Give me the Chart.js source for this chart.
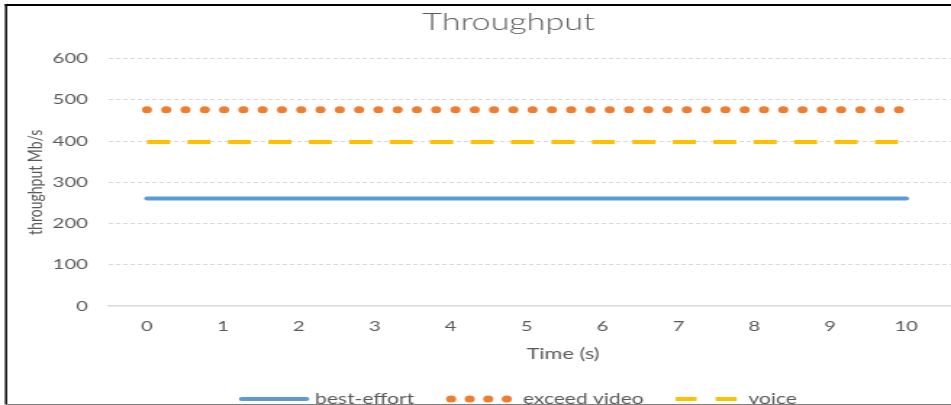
<!DOCTYPE html>
<html>
<head>
<meta charset="utf-8">
<script src="https://cdn.jsdelivr.net/npm/chart.js@4.4.1/dist/chart.umd.min.js"></script>
<style>
  html, body { margin: 0; padding: 0; background: #fff; overflow: hidden; }
  #wrap { width: 951px; height: 405px; overflow: hidden; }
  #c { display: block; transform-origin: 0 0; }
</style>
</head>
<body>
<div id="wrap"><canvas id="c" width="711" height="405" style="width:711px;height:405px"></canvas></div>
<script>
// Time axis (seconds) and measured throughput per traffic class (Mb/s)
const timeSteps   = [0, 1, 2, 3, 4, 5, 6, 7, 8, 9, 10];
const bestEffort  = [261, 261, 261, 261, 261, 261, 261, 261, 261, 261, 261];
const exceedVideo = [476, 476, 476, 476, 476, 476, 476, 476, 476, 476, 476];
const voice       = [398, 398, 398, 398, 398, 398, 398, 398, 398, 398, 398];
const yTicks      = [0, 100, 200, 300, 400, 500, 600];
const seriesNames = ['best-effort', 'exceed video', 'voice'];

// The chart is laid out on a narrower canvas and widened horizontally;
// the frame is wider than the visible window, which crops its right side.
const CANVAS_W = 711;
const STRETCH = 951 / 656;
document.getElementById('c').style.transform = 'scaleX(' + STRETCH + ')';

const TEXT = '#595959';
const FONT = 'Lato';
const COLORS = { blue: '#5b9bd5', orange: '#ed7d31', gold: '#ffc000' };

const toPoints = vals => vals.map((v, i) => ({ x: timeSteps[i], y: v }));

// Legend samples mirror each dataset's line style
const legendStyles = ['solid', 'dots', 'dash'];

const framePlugin = {
  id: 'frame',
  afterDraw(chart) {
    const ctx = chart.ctx;
    ctx.save();
    ctx.font = '14.5px ' + FONT;
    ctx.textBaseline = 'middle';
    const ly = 399;
    const sampleW = { solid: 47.6, dots: 45.4, dash: 42 };
    const gapST = { solid: 4.5, dots: 7.6, dash: 8.3 };
    const gapItems = 22;
    const items = chart.data.datasets.map((ds, i) => ({
      label: ds.label, color: ds.borderColor, style: legendStyles[i],
      tw: ctx.measureText(ds.label).width
    }));
    let total = 0;
    items.forEach((it, i) => { total += sampleW[it.style] + gapST[it.style] + it.tw + (i ? gapItems : 0); });
    let x = 357.5 - total / 2;
    items.forEach((it, i) => {
      if (i) x += gapItems;
      ctx.fillStyle = it.color;
      ctx.strokeStyle = it.color;
      if (it.style === 'solid') {
        ctx.lineWidth = 4; ctx.lineCap = 'round';
        ctx.beginPath(); ctx.moveTo(x + 1.5, ly); ctx.lineTo(x + sampleW.solid - 1.5, ly); ctx.stroke();
      } else if (it.style === 'dots') {
        for (let k = 0; k < 4; k++) {
          ctx.beginPath(); ctx.arc(x + 3.5 + k * 12.8, ly, 3.5, 0, Math.PI * 2); ctx.fill();
        }
      } else {
        ctx.fillRect(x, ly - 2, 14.5, 4);
        ctx.fillRect(x + 27.6, ly - 2, 14.5, 4);
      }
      x += sampleW[it.style] + gapST[it.style];
      ctx.fillStyle = TEXT;
      ctx.textAlign = 'left';
      ctx.fillText(it.label, x, ly);
      x += it.tw;
    });
    // outer frame
    ctx.fillStyle = '#000';
    ctx.fillRect(3.4, 4, CANVAS_W, 2);
    ctx.fillRect(3.4, 4, 1.5, 400);
    ctx.fillStyle = '#7f7f7f';
    ctx.fillRect(3.4, 404, CANVAS_W, 1);
    ctx.restore();
  }
};

new Chart(document.getElementById('c'), {
  type: 'line',
  data: {
    datasets: [
      {
        label: seriesNames[0], data: toPoints(bestEffort),
        borderColor: COLORS.blue, backgroundColor: COLORS.blue,
        borderWidth: 4, borderCapStyle: 'round', pointRadius: 0, tension: 0
      },
      {
        label: seriesNames[1], data: toPoints(exceedVideo),
        borderColor: COLORS.orange, backgroundColor: COLORS.orange,
        borderWidth: 7, borderCapStyle: 'round', borderDash: [0, 13.3], pointRadius: 0, tension: 0
      },
      {
        label: seriesNames[2], data: toPoints(voice),
        borderColor: COLORS.gold, backgroundColor: COLORS.gold,
        borderWidth: 4, borderCapStyle: 'butt', borderDash: [15.9, 12.0], pointRadius: 0, tension: 0
      }
    ]
  },
  options: {
    responsive: false,
    animation: false,
    events: [],
    layout: { padding: { top: 8, left: 0, right: 9.5, bottom: 0 } },
    plugins: {
      legend: { display: false },
      tooltip: { enabled: false },
      title: {
        display: true, text: 'Throughput', color: TEXT,
        font: { family: FONT, size: 23.5, weight: '300' },
        padding: { top: 0.5, bottom: 21.9 }
      }
    },
    scales: {
      x: {
        type: 'linear', min: -0.5, max: 11.46,
        afterBuildTicks: s => { s.ticks = timeSteps.map(v => ({ value: v })); },
        afterFit: s => { s.height = 99; },
        grid: { display: false, drawTicks: false },
        border: { display: true, color: '#d9d9d9', width: 1.5 },
        ticks: {
          color: TEXT, font: { family: FONT, size: 14 }, padding: 12,
          maxRotation: 0, autoSkip: false,
          callback: v => String(v)
        },
        title: {
          display: true, text: 'Time (s)', color: TEXT,
          font: { family: FONT, size: 15 }, padding: { top: 0, bottom: 41.8 }
        }
      },
      y: {
        min: 0, max: 600,
        afterBuildTicks: s => { s.ticks = yTicks.map(v => ({ value: v })); },
        afterFit: s => { s.width = 75.2; },
        grid: {
          color: c => (c.tick && c.tick.value === 0) ? 'rgba(0,0,0,0)' : '#d9d9d9',
          lineWidth: 1, drawTicks: false
        },
        border: { display: false, dash: [3, 2] },
        ticks: { color: TEXT, font: { family: FONT, size: 14 }, padding: 14.5 },
        title: {
          display: true, text: 'throughput Mb/s', color: TEXT,
          font: { family: FONT, size: 14 }, padding: { top: 15.7, bottom: 0 }
        }
      }
    }
  },
  plugins: [framePlugin]
});
</script>
</body>
</html>
